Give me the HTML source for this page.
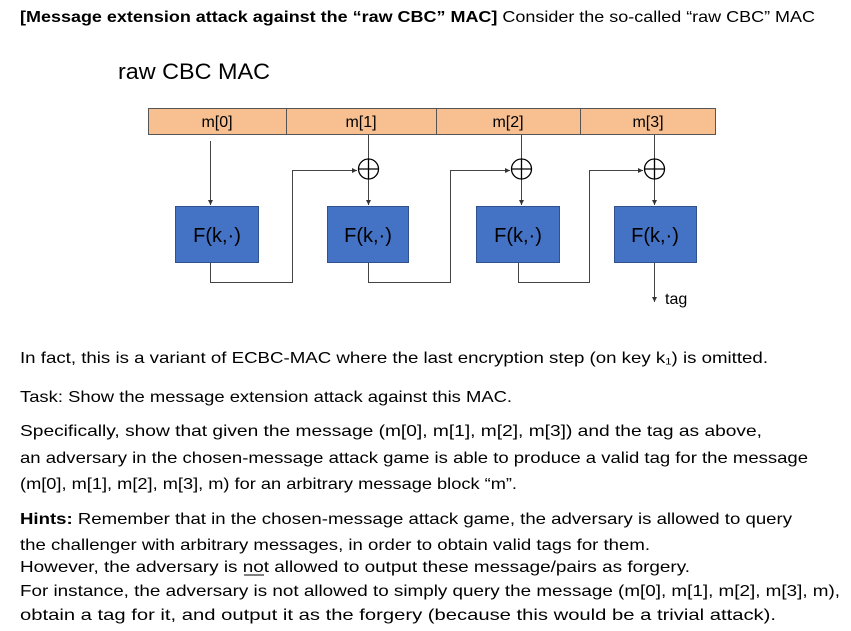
<!DOCTYPE html>
<html><head><meta charset="utf-8"><style>
html,body{margin:0;padding:0;background:#fff;}
svg{display:block;}
text{font-family:"Liberation Sans",sans-serif;fill:#000;}
</style></head><body>
<svg width="851" height="631" viewBox="0 0 851 631" xmlns="http://www.w3.org/2000/svg">
<defs><marker id="a" markerWidth="6" markerHeight="6" refX="5" refY="3" orient="auto" markerUnits="userSpaceOnUse"><path d="M0,0.5 L5,3 L0,5.5z" fill="#333"/></marker></defs>
<text x="20" y="22" font-size="16" textLength="795" lengthAdjust="spacingAndGlyphs"><tspan font-weight="bold">[Message extension attack against the “raw CBC” MAC]</tspan> Consider the so-called “raw CBC” MAC</text>
<text x="118" y="79" font-size="22" textLength="152" lengthAdjust="spacingAndGlyphs">raw CBC MAC</text>
<rect x="148.5" y="108.5" width="567" height="26" fill="#f8c090" stroke="#555"/>
<line x1="286.5" y1="108" x2="286.5" y2="134" stroke="#555"/>
<line x1="436.5" y1="108" x2="436.5" y2="134" stroke="#555"/>
<line x1="580.5" y1="108" x2="580.5" y2="134" stroke="#555"/>
<g font-size="16" text-anchor="middle">
<text x="217" y="127">m[0]</text><text x="361" y="127">m[1]</text><text x="508" y="127">m[2]</text><text x="648" y="127">m[3]</text>
</g>
<g stroke="#444" stroke-width="1" fill="none">
<line x1="210.5" y1="141" x2="210.5" y2="205" marker-end="url(#a)"/>
<line x1="368.5" y1="135" x2="368.5" y2="159"/><line x1="368.5" y1="179" x2="368.5" y2="205" marker-end="url(#a)"/>
<line x1="521.5" y1="135" x2="521.5" y2="159"/><line x1="521.5" y1="179" x2="521.5" y2="205" marker-end="url(#a)"/>
<line x1="654.5" y1="135" x2="654.5" y2="159"/><line x1="654.5" y1="179" x2="654.5" y2="205" marker-end="url(#a)"/>
<polyline points="210.5,262 210.5,282.5 292.5,282.5 292.5,170.5 357,170.5" marker-end="url(#a)"/>
<polyline points="368.5,262 368.5,282.5 450.5,282.5 450.5,170.5 510,170.5" marker-end="url(#a)"/>
<polyline points="518.5,262 518.5,282.5 589.5,282.5 589.5,170.5 643,170.5" marker-end="url(#a)"/>
<line x1="654.5" y1="262" x2="654.5" y2="302" marker-end="url(#a)"/>
</g>
<g stroke="#000" stroke-width="1.3" fill="#fff">
<circle cx="368.5" cy="169" r="10"/><circle cx="521.5" cy="169" r="10"/><circle cx="654.5" cy="169" r="10"/>
<path d="M358.5,169H378.5M368.5,159V179M511.5,169H531.5M521.5,159V179M644.5,169H664.5M654.5,159V179"/>
</g>
<g fill="#4472c4" stroke="#2f528f">
<rect x="175.5" y="206.5" width="83" height="56"/><rect x="327.5" y="206.5" width="81" height="56"/>
<rect x="476.5" y="206.5" width="83" height="56"/><rect x="614.5" y="206.5" width="82" height="56"/>
</g>
<g font-size="20" text-anchor="middle">
<text x="217" y="242">F(k,·)</text><text x="368" y="242">F(k,·)</text><text x="518" y="242">F(k,·)</text><text x="655" y="242">F(k,·)</text>
</g>
<text x="665" y="304" font-size="16">tag</text>
<g font-size="16">
<text x="20" y="363" textLength="748" lengthAdjust="spacingAndGlyphs">In fact, this is a variant of ECBC-MAC where the last encryption step (on key k₁) is omitted.</text>
<text x="20" y="402" textLength="492" lengthAdjust="spacingAndGlyphs">Task: Show the message extension attack against this MAC.</text>
<text x="20" y="436" textLength="742" lengthAdjust="spacingAndGlyphs">Specifically, show that given the message (m[0], m[1], m[2], m[3]) and the tag as above,</text>
<text x="20" y="463" textLength="788" lengthAdjust="spacingAndGlyphs">an adversary in the chosen-message attack game is able to produce a valid tag for the message</text>
<text x="20" y="489" textLength="497" lengthAdjust="spacingAndGlyphs">(m[0], m[1], m[2], m[3], m) for an arbitrary message block “m”.</text>
<text x="20" y="524" textLength="772" lengthAdjust="spacingAndGlyphs"><tspan font-weight="bold">Hints:</tspan> Remember that in the chosen-message attack game, the adversary is allowed to query</text>
<text x="20" y="550" textLength="630" lengthAdjust="spacingAndGlyphs">the challenger with arbitrary messages, in order to obtain valid tags for them.</text>
<text x="20" y="572" textLength="670" lengthAdjust="spacingAndGlyphs">However, the adversary is not allowed to output these message/pairs as forgery.</text>
<text x="20" y="596" textLength="820" lengthAdjust="spacingAndGlyphs">For instance, the adversary is not allowed to simply query the message (m[0], m[1], m[2], m[3], m),</text>
<text x="20" y="620" textLength="756" lengthAdjust="spacingAndGlyphs">obtain a tag for it, and output it as the forgery (because this would be a trivial attack).</text>
</g>
<line x1="244" y1="575" x2="264" y2="575" stroke="#000" stroke-width="1"/>
</svg>
</body></html>
